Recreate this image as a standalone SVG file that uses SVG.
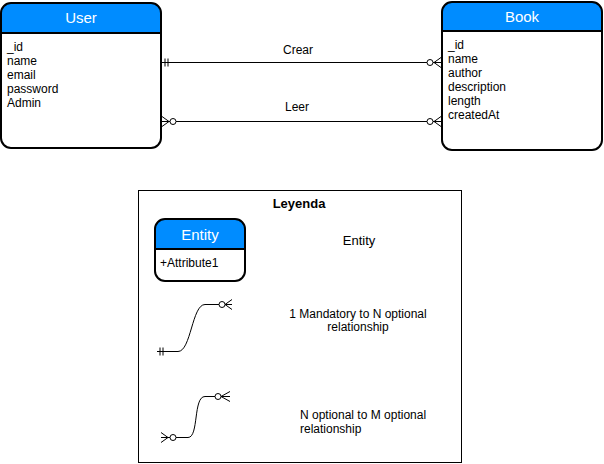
<svg xmlns="http://www.w3.org/2000/svg" width="604" height="464" viewBox="0 0 604 464">
<style>
text{font-family:"Liberation Sans",Arial,sans-serif;fill:#000}
.hdr{fill:#008CFF}
.box{fill:none;stroke:#000;stroke-width:2}
.body{fill:#fff}
.title{fill:#fff;font-size:15px;text-anchor:middle}
.attr{font-size:12px}
.ln{fill:none;stroke:#000;stroke-width:1}
.circ{fill:#fff;stroke:#000;stroke-width:1}
.lbl{font-size:12px;text-anchor:middle}
</style>
<rect x="0" y="0" width="604" height="464" fill="#fff"/>
<g id="user">
<rect class="body" x="1" y="3" width="160" height="145" rx="10"/>
<path class="hdr" d="M1 33 V13 A10 10 0 0 1 11 3 H151 A10 10 0 0 1 161 13 V33 Z"/>
<rect class="box" x="1" y="3" width="160" height="145" rx="10"/>
<line x1="1" y1="33" x2="161" y2="33" stroke="#000" stroke-width="2"/>
<text class="title" x="81" y="23">User</text>
<text class="attr" x="7" y="51">_id</text>
<text class="attr" x="7" y="65">name</text>
<text class="attr" x="7" y="79">email</text>
<text class="attr" x="7" y="93">password</text>
<text class="attr" x="7" y="107">Admin</text>
</g>
<g id="book">
<rect class="body" x="442" y="2" width="160" height="148" rx="10"/>
<path class="hdr" d="M442 31 V12 A10 10 0 0 1 452 2 H592 A10 10 0 0 1 602 12 V31 Z"/>
<rect class="box" x="442" y="2" width="160" height="148" rx="10"/>
<line x1="442" y1="31" x2="602" y2="31" stroke="#000" stroke-width="2"/>
<text class="title" x="522" y="22">Book</text>
<text class="attr" x="448" y="49">_id</text>
<text class="attr" x="448" y="63">name</text>
<text class="attr" x="448" y="77">author</text>
<text class="attr" x="448" y="91">description</text>
<text class="attr" x="448" y="105">length</text>
<text class="attr" x="448" y="119">createdAt</text>
</g>
<g id="connectors">
<path class="ln" d="M161 62.5 H427 M433 62.5 H441 M165 58.5 V66.5 M168 58.5 V66.5 M434 62.5 L441 57.5 M434 62.5 L441 67.5"/>
<circle class="circ" cx="430" cy="62.5" r="3"/>
<text class="lbl" x="298" y="54">Crear</text>
<path class="ln" d="M162 121.5 H170 M176 121.5 H427 M433 121.5 H441 M162 116.5 L169 121.5 L162 126.5 M434 121.5 L441 116.5 M434 121.5 L441 126.5"/>
<circle class="circ" cx="173" cy="121.5" r="3"/>
<circle class="circ" cx="430" cy="121.5" r="3"/>
<text class="lbl" x="297" y="111">Leer</text>
</g>
<g id="legend">
<rect x="138.5" y="190.5" width="323" height="272" fill="none" stroke="#000" stroke-width="1"/>
<text x="299" y="208" font-size="13" font-weight="bold" text-anchor="middle">Leyenda</text>
<g id="legend-entity">
<rect class="body" x="155" y="219" width="90" height="62" rx="10"/>
<path class="hdr" d="M155 249 V229 A10 10 0 0 1 165 219 H235 A10 10 0 0 1 245 229 V249 Z"/>
<rect class="box" x="155" y="219" width="90" height="62" rx="10"/>
<line x1="155" y1="249" x2="245" y2="249" stroke="#000" stroke-width="2"/>
<text class="title" x="200" y="240" font-size="14">Entity</text>
<text class="attr" x="160" y="267">+Attribute1</text>
</g>
<text x="359" y="245" font-size="13" text-anchor="middle">Entity</text>
<g id="legend-rel1">
<path class="ln" d="M157 351.5 H178 C191 351.5 192 304.5 205 304.5 H219 M225 304.5 H232 M160 347.5 V355.5 M163 347.5 V355.5 M225 304.5 L232 299.5 M225 304.5 L232 309.5"/>
<circle class="circ" cx="222" cy="304.5" r="3"/>
</g>
<text class="lbl" x="358" y="318">1 Mandatory to N optional</text>
<text class="lbl" x="358" y="331">relationship</text>
<g id="legend-rel2">
<path class="ln" d="M161 437.5 H170 M176 437.5 H188 C199 437.5 193 396.5 205 396.5 H215 M221 396.5 H230 M161 432.5 L168 437.5 L161 442.5 M221 396.5 L230 391.5 M221 396.5 L230 401.5"/>
<circle class="circ" cx="173" cy="437.5" r="3"/>
<circle class="circ" cx="218" cy="396.5" r="3"/>
</g>
<text class="attr" x="300" y="418.5">N optional to M optional</text>
<text class="attr" x="300" y="433">relationship</text>
</g>
</svg>
